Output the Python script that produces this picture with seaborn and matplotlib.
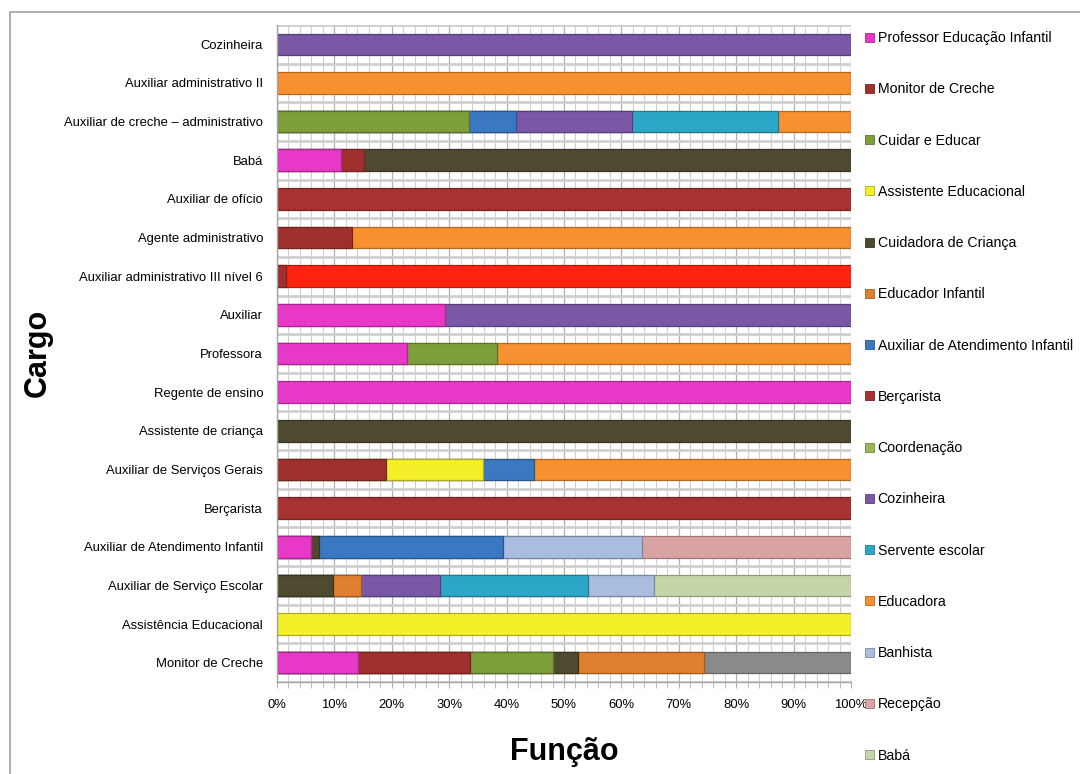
import matplotlib
matplotlib.use("Agg")
import matplotlib.pyplot as plt
import matplotlib.colors as mcolors
from matplotlib.patches import Patch, Rectangle
import numpy as np
import pandas as pd
import seaborn as sns

###############################################################################
# data (percent of each cargo)
###############################################################################

cargos = ["Cozinheira", "Auxiliar administrativo II",
          "Auxiliar de creche – administrativo", "Babá", "Auxiliar de ofício",
          "Agente administrativo", "Auxiliar administrativo III nível 6",
          "Auxiliar", "Professora", "Regente de ensino",
          "Assistente de criança", "Auxiliar de Serviços Gerais", "Berçarista",
          "Auxiliar de Atendimento Infantil", "Auxiliar de Serviço Escolar",
          "Assistência Educacional", "Monitor de Creche"]

#                   Coz  AAII  ACA   Babá  AO   AgA   AAIII Aux   Prof  Reg  AsC  ASG   Berç AAI   ASE   AE   MC
prof_ed_infantil = [0,   0,    0,    11.1, 0,   0,    0,    29.3, 22.7, 100, 0,   0,    0,   5.9,  0,    0,   14.1]
monitor_creche   = [0,   0,    0,    4.0,  0,   13.1, 1.6,  0,    0,    0,   0,   19.0, 0,   0,    0,    0,   19.5]
cuidar_educar    = [0,   0,    33.5, 0,    0,   0,    0,    0,    15.6, 0,   0,   0,    0,   0,    0,    0,   14.5]
assist_educ      = [0,   0,    0,    0,    0,   0,    0,    0,    0,    0,   0,   16.9, 0,   0,    0,    100, 0]
cuidadora        = [0,   0,    0,    84.9, 0,   0,    0,    0,    0,    0,   100, 0,    0,   1.5,  9.8,  0,   4.3]
educador_inf     = [0,   0,    0,    0,    0,   0,    0,    0,    0,    0,   0,   0,    0,   0,    4.9,  0,   22.0]
aux_atend_inf    = [0,   0,    8.1,  0,    0,   0,    0,    0,    0,    0,   0,   8.9,  0,   32.0, 0,    0,   0]
bercarista       = [0,   0,    0,    0,    100, 0,    0,    0,    0,    0,   0,   0,    100, 0,    0,    0,   0]
coordenacao      = [0,   0,    0,    0,    0,   0,    0,    0,    0,    0,   0,   0,    0,   0,    0,    0,   0]
cozinheira       = [100, 0,    20.3, 0,    0,   0,    0,    70.7, 0,    0,   0,   0,    0,   0,    13.7, 0,   0]
servente         = [0,   0,    25.4, 0,    0,   0,    0,    0,    0,    0,   0,   0,    0,   0,    25.8, 0,   0]
educadora        = [0,   100,  12.7, 0,    0,   86.9, 0,    0,    61.7, 0,   0,   55.2, 0,   0,    0,    0,   0]
banhista         = [0,   0,    0,    0,    0,   0,    0,    0,    0,    0,   0,   0,    0,   24.2, 11.5, 0,   0]
recepcao         = [0,   0,    0,    0,    0,   0,    0,    0,    0,    0,   0,   0,    0,   36.4, 0,    0,   0]
baba             = [0,   0,    0,    0,    0,   0,    0,    0,    0,    0,   0,   0,    0,   0,    34.3, 0,   0]
outros_cinza     = [0,   0,    0,    0,    0,   0,    0,    0,    0,    0,   0,   0,    0,   0,    0,    0,   25.6]
outros_vermelho  = [0,   0,    0,    0,    0,   0,    98.4, 0,    0,    0,   0,   0,    0,   0,    0,    0,   0]

funcoes = ["Professor Educação Infantil", "Monitor de Creche", "Cuidar e Educar",
           "Assistente Educacional", "Cuidadora de Criança", "Educador Infantil",
           "Auxiliar de Atendimento Infantil", "Berçarista", "Coordenação",
           "Cozinheira", "Servente escolar", "Educadora", "Banhista", "Recepção",
           "Babá", "Outros (cinza)", "Outros (vermelho)"]
valores = [prof_ed_infantil, monitor_creche, cuidar_educar, assist_educ,
           cuidadora, educador_inf, aux_atend_inf, bercarista, coordenacao,
           cozinheira, servente, educadora, banhista, recepcao, baba,
           outros_cinza, outros_vermelho]
n_legenda = 15  # legend in the original is cut after "Babá"

cores = ["#E838C8", "#A0302D", "#7D9E3A", "#F5EF2A", "#4E4A30", "#E07F2E",
         "#3A78C2", "#A63232", "#9BBB59", "#7A58A6", "#2DA7C8", "#F7902E",
         "#A9BDE0", "#D9A3A3", "#C5D5A8", "#8A8A8A", "#FF2410"]

###############################################################################
# plot
###############################################################################

df = pd.DataFrame(dict(zip(funcoes, valores)), index=cargos)

sns.set_style("white")
plt.rcParams["font.family"] = ["Liberation Sans", "DejaVu Sans"]
plt.rcParams["text.color"] = "black"
plt.rcParams["xtick.color"] = "black"
plt.rcParams["ytick.color"] = "black"

fig = plt.figure(figsize=(10.8, 7.74), dpi=100)
ax = fig.add_axes([277 / 1080, 1 - 682 / 774, (851 - 277) / 1080, (682 - 25) / 774])


def darker(c, f=0.72):
    r, g, b = mcolors.to_rgb(c)
    return (r * f, g * f, b * f)


# stacked bars: draw cumulative totals from the last series to the first
for i in range(len(funcoes) - 1, -1, -1):
    cum = df[funcoes[:i + 1]].sum(axis=1)
    cum = cum.where(df[funcoes[i]] > 0)
    sns.barplot(x=cum.values, y=cargos, orient="h", color=cores[i],
                saturation=1, width=0.56, errorbar=None,
                edgecolor=darker(cores[i]), linewidth=0.9, ax=ax)

ax.set_xlim(0, 100)
ax.set_ylim(len(cargos) - 0.5, -0.5)
ax.set_xticks(np.arange(0, 101, 10))
ax.set_xticks(np.arange(0, 101, 2), minor=True)
ax.set_xticklabels([f"{v}%" for v in range(0, 101, 10)])
ax.set_yticks(np.arange(-0.5, len(cargos), 1), minor=True)
ax.set_axisbelow(True)
ax.grid(which="minor", axis="x", color="#d0d0d0", linewidth=0.8)
ax.grid(which="major", axis="x", color="#b0b0b0", linewidth=0.9)
ax.grid(which="minor", axis="y", color="#cfcfcf", linewidth=2.0)

ax.tick_params(axis="x", which="both", labelsize=9.4, length=4,
               color="#b0b0b0", pad=8, labelcolor="black", bottom=True)
ax.tick_params(axis="y", which="both", labelsize=9.4, length=0, pad=10,
               labelcolor="black")
for s in ["top", "right"]:
    ax.spines[s].set_visible(False)
for s in ["left", "bottom"]:
    ax.spines[s].set_color("#a6a6a6")
    ax.spines[s].set_linewidth(1.0)
ax.set_xlabel("")
ax.set_ylabel("")

fig.text(38 / 1080, 1 - 353 / 774, "Cargo", rotation=90, fontsize=22,
         fontweight="bold", ha="center", va="center", color="black")
fig.text(564 / 1080, 1 - 752 / 774, "Função", fontsize=22,
         fontweight="bold", ha="center", va="center", color="black")

handles = [Patch(facecolor=cores[i], edgecolor=darker(cores[i]), linewidth=0.6,
                 label=funcoes[i]) for i in range(n_legenda)]
fig.legend(handles=handles, loc="upper left",
           bbox_to_anchor=(865 / 1080, 1 - 31 / 774), frameon=False,
           fontsize=10.2, labelspacing=2.63, handlelength=0.6,
           handleheight=0.6, handletextpad=0.3, borderpad=0, borderaxespad=0,
           labelcolor="black")

fig.add_artist(Rectangle((10 / 1080, -0.1), 1.2, 1.1 - 12 / 774,
                         transform=fig.transFigure, fill=False,
                         edgecolor="#a0a0a0", linewidth=1.2))

fig.savefig("out.png", dpi=100)
